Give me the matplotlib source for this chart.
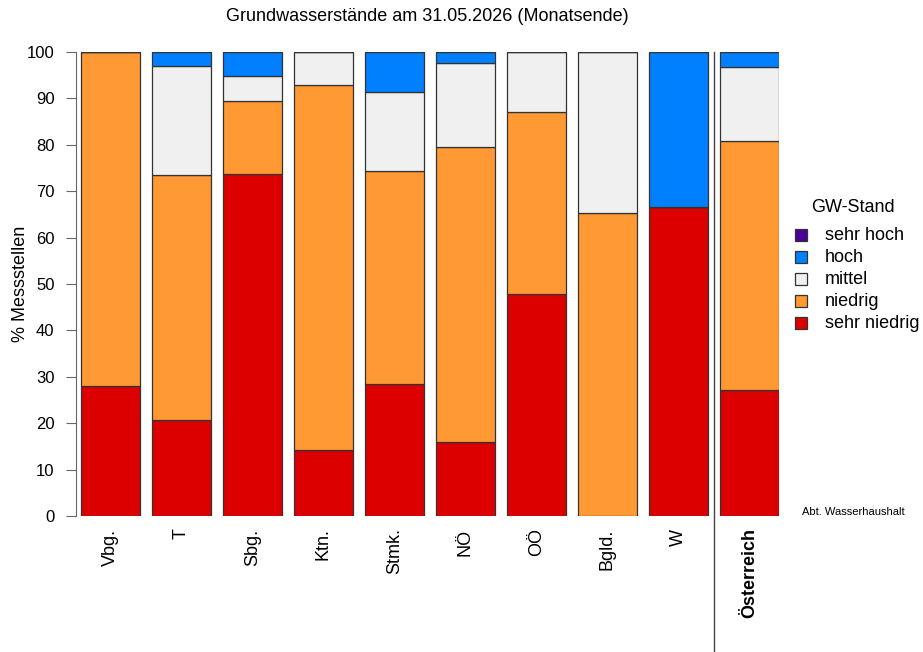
import matplotlib.pyplot as plt
from matplotlib.patches import Rectangle
import numpy as np

plt.rcParams["font.family"] = ["Liberation Sans", "DejaVu Sans"]

# Anteil der Messstellen je Bundesland (%)
regions = ["Vbg.", "T", "Sbg.", "Ktn.", "Stmk.", "NÖ", "OÖ", "Bgld.", "W", "Österreich"]
sehr_niedrig = [28.0, 20.6, 73.6, 14.3, 28.5, 15.9, 47.8, 0.0, 66.7, 27.2]
niedrig = [72.0, 52.9, 15.8, 78.6, 45.9, 63.6, 39.2, 65.2, 0.0, 53.7]
mittel = [0.0, 23.5, 5.4, 7.1, 17.0, 18.2, 13.0, 34.8, 0.0, 15.9]
hoch = [0.0, 3.0, 5.2, 0.0, 8.6, 2.3, 0.0, 0.0, 33.3, 3.2]
sehr_hoch = [0.0] * 10

classes = ["sehr niedrig", "niedrig", "mittel", "hoch", "sehr hoch"]
colors = ["#DD0000", "#FF9933", "#F0F0F0", "#0080FF", "#4B0096"]
series = [sehr_niedrig, niedrig, mittel, hoch, sehr_hoch]

fig = plt.figure(figsize=(9.23, 6.52), dpi=100)
W, H = 923, 652
ax = fig.add_axes([76 / W, 136 / H, 703 / W, 464 / H])

x = np.arange(len(regions)) * 1.2 + 0.7
bottom = np.zeros(len(regions))
for vals, col in zip(series, colors):
    ax.bar(x, vals, width=1.0, bottom=bottom, color=col,
           edgecolor="#333333", linewidth=0.9)
    bottom += np.array(vals)

ax.set_xlim(0.12, 12.0)
ax.set_ylim(0, 100)
for s in ["top", "right", "bottom"]:
    ax.spines[s].set_visible(False)
ax.spines["left"].set_color("#666666")
ax.set_yticks(range(0, 101, 10))
ax.tick_params(axis="y", labelsize=12, length=7.5, color="#666666", pad=8)
ax.set_xticks(x)
ax.set_xticklabels(regions, rotation=90, fontsize=13, va="top")
ax.tick_params(axis="x", length=0, pad=9)
ax.get_xticklabels()[-1].set_fontweight("bold")

ax.set_ylabel("% Messstellen", fontsize=13, labelpad=-2)
ax.set_title("Grundwasserstände am 31.05.2026 (Monatsende)", fontsize=13, pad=22)

# Trennlinie vor Österreich
ax.plot([10.9, 10.9], [100, -35], color="#444444", linewidth=1, clip_on=False)

# Legende
fig.text(853 / W, 1 - 207 / H, "GW-Stand", fontsize=13, ha="center", va="center")
for i, (name, col) in enumerate(zip(classes[::-1], colors[::-1])):
    yc = 235 + i * 22
    fig.patches.append(Rectangle((795 / W, 1 - (yc + 6) / H), 12 / W, 12 / H,
                                 transform=fig.transFigure, facecolor=col,
                                 edgecolor="#333333", linewidth=0.9))
    fig.text(825 / W, 1 - yc / H, name, fontsize=13, va="center", ha="left")

fig.text(853 / W, 1 - 512 / H, "Abt. Wasserhaushalt", fontsize=8, ha="center", va="center")

fig.savefig("out.png", dpi=100, facecolor="white")
